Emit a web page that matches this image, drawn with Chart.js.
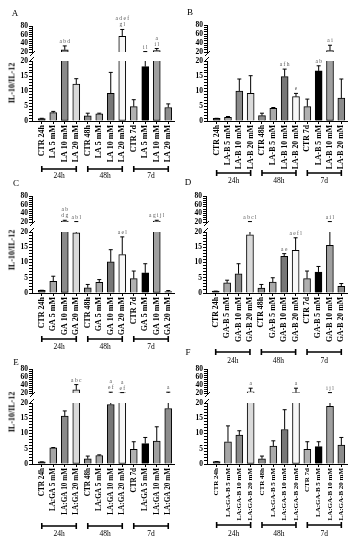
<!DOCTYPE html>
<html>
<head>
<meta charset="utf-8">
<script src="https://cdn.jsdelivr.net/npm/chart.js@4.4.1/dist/chart.umd.min.js"></script>
<style>
  body { margin: 0; background: #fff; width: 355px; height: 550px; position: relative; overflow: hidden; font-family: 'Liberation Serif', 'Times New Roman', serif; }
  canvas { position: absolute; }
  .letter { position: absolute; font-size: 9px; transform: translate(-50%, -50%); }
  .ytitle { position: absolute; font-size: 8px; font-weight: bold; white-space: nowrap; transform: translate(-50%, -50%) rotate(-90deg); }
</style>
</head>
<body>
<script>
// groups and tick labels
var groups = ['24h', '48h', '7d'];
function treatLabels(t) {
  var out = [];
  groups.forEach(function(g) {
    out.push('CTR ' + g);
    [5, 10, 20].forEach(function(d) { out.push(t + ' ' + d + ' mM'); });
  });
  return out;
}
var labelsA = treatLabels('LA');
var labelsB = treatLabels('LA-B');
var labelsC = treatLabels('GA');
var labelsD = treatLabels('GA-B');
var labelsE = treatLabels('LA:GA');
var labelsF = treatLabels('LA:GA-B');

// IL-10/IL-12 ratio (bar height) and top of the error bar
var valuesA = [0.8, 2.8, 25, 12.3, 1.7, 2.4, 9.2, 56, 4.8, 18.1, 23, 4.5];
var errorsA = [0.9, 3.2, 34, 14.1, 2.6, 2.6, 16.2, 72, 7.1, 21, 28, 5.7];
var notesA  = ['', '', 'a b d', '', '', '', '', 'a d e f\ng l', '', 'i l', 'a\ni l', ''];

var valuesB = [0.9, 1.2, 10, 9.2, 1.8, 4.2, 14.8, 8.1, 4.8, 16.7, 23, 7.6];
var errorsB = [0.9, 1.5, 14, 15.1, 2.6, 4.5, 17.3, 9.2, 7.3, 18.4, 35, 14];
var notesB  = ['', '', '', '', '', '', 'a f h', 'e', '', 'a b', 'a i', ''];

var valuesC = [0.9, 3.8, 22, 19.7, 1.7, 3.5, 10.2, 12.6, 4.7, 6.6, 22, 0.5];
var errorsC = [0.9, 5.5, 24, 21, 2.8, 4.4, 14.2, 18.4, 7.2, 9.6, 24, 0.8];
var notesC  = ['', '', 'a b\nd g', 'a b l', '', '', '', 'a e l', '', '', 'a g i j l', ''];

var valuesD = [0.6, 3.3, 6.3, 19.1, 1.6, 3.6, 12, 14, 4.7, 6.9, 15.6, 2.2];
var errorsD = [0.6, 4.2, 9.6, 21, 2.8, 5, 12.9, 18.1, 7.2, 8.7, 21, 3.1];
var notesD  = ['', '', '', 'a b c l', '', '', 'a e', 'a e f l', '', '', 'a i l', ''];

var valuesE = [0.7, 5.3, 15.7, 28, 1.7, 2.8, 19.5, 20.5, 4.8, 6.7, 7.5, 18.2];
var errorsE = [0.7, 5.4, 17.4, 41, 2.6, 3.0, 22, 21, 7.3, 8.7, 12.2, 22];
var notesE  = ['', '', '', 'a b c', '', '', 'a\ne f', 'a\ne f', '', '', '', 'a'];

var valuesF = [0.8, 7.3, 9.5, 23, 1.7, 5.9, 11.3, 21, 4.8, 5.7, 18.9, 6.2];
var errorsF = [0.8, 12.5, 10.9, 32, 2.6, 7.6, 17.8, 32, 7.3, 7.3, 21, 8.7];
var notesF  = ['', '', '', 'a', '', '', '', 'a', '', '', 'i j l', ''];

var barColors = ['#3c3c3c', '#a6a6a6', '#8a8a8a', '#dadada', '#8c8c8c', '#a9a9a9', '#777777', '#f7f7f7',
                 '#b0b0b0', '#000000', '#a0a0a0', '#8c8c8c'];
var SERIF = "'Liberation Serif', 'Times New Roman', serif";
var BREAK = 20;

// page layout of each panel
var panels = [
  { letter: 'A', lx: 15, ly: 13, col: 0, axisX: 32, right: 174, upTop: 26, upBot: 52, loTop: 61, loBot: 121, brY: 169, txY: 176, lab: 8, title: 83,
    labels: labelsA, values: valuesA, errors: errorsA, notes: notesA },
  { letter: 'B', lx: 190, ly: 12, col: 175, axisX: 207, right: 347, upTop: 25, upBot: 52, loTop: 61, loBot: 121, brY: 173, txY: 181, lab: 7.8,
    labels: labelsB, values: valuesB, errors: errorsB, notes: notesB },
  { letter: 'C', lx: 16, ly: 183, col: 0, axisX: 32, right: 174, upTop: 196, upBot: 222, loTop: 232, loBot: 293, brY: 339, txY: 347, lab: 8, title: 250,
    labels: labelsC, values: valuesC, errors: errorsC, notes: notesC },
  { letter: 'D', lx: 188, ly: 182, col: 175, axisX: 206, right: 347, upTop: 196, upBot: 222, loTop: 232, loBot: 293, brY: 352, txY: 361, lab: 7.8,
    labels: labelsD, values: valuesD, errors: errorsD, notes: notesD },
  { letter: 'E', lx: 16, ly: 362, col: 0, axisX: 32, right: 174, upTop: 369, upBot: 393, loTop: 403, loBot: 464, brY: 526, txY: 534, lab: 7.2, title: 412,
    labels: labelsE, values: valuesE, errors: errorsE, notes: notesE },
  { letter: 'F', lx: 188, ly: 352, col: 175, axisX: 207, right: 347, upTop: 369, upBot: 393, loTop: 403, loBot: 464, brY: 525, txY: 534, lab: 7,
    labels: labelsF, values: valuesF, errors: errorsF, notes: notesF }
];

function addCanvas(left, top, w, h) {
  var c = document.createElement('canvas');
  c.width = w; c.height = h;
  c.style.left = left + 'px'; c.style.top = top + 'px';
  c.style.width = w + 'px'; c.style.height = h + 'px';
  document.body.appendChild(c);
  return c;
}

function addText(cls, txt, x, y) {
  var d = document.createElement('div');
  d.className = cls; d.textContent = txt;
  d.style.left = x + 'px'; d.style.top = y + 'px';
  document.body.appendChild(d);
}

// error bars, significance letters, axis break, group brackets
function marks(p, part, top) {
  return {
    id: 'marks',
    afterDatasetsDraw: function(chart) {
      var ctx = chart.ctx, xs = chart.scales.x, ys = chart.scales.y, a = chart.chartArea;
      ctx.save();
      ctx.strokeStyle = '#000';
      ctx.lineWidth = 1;
      p.values.forEach(function(v, i) {
        var e = p.errors[i], px = xs.getPixelForValue(i), from, to, cap;
        if (part === 'lower') { from = Math.min(v, BREAK); to = Math.min(e, BREAK); cap = e <= BREAK; }
        else { if (e <= BREAK) return; from = Math.max(v, BREAK); to = e; cap = true; }
        var y1 = ys.getPixelForValue(from), y2 = ys.getPixelForValue(to);
        ctx.beginPath();
        ctx.moveTo(px, y1); ctx.lineTo(px, y2);
        if (cap) { ctx.moveTo(px - 2, y2); ctx.lineTo(px + 2, y2); }
        ctx.stroke();
        // letters above the error bar
        var note = p.notes[i];
        if (note && ((part === 'upper') === (e > BREAK))) {
          var lines = note.split('\n');
          ctx.fillStyle = '#555';
          ctx.font = '5.5px ' + SERIF;
          ctx.textAlign = 'center';
          ctx.textBaseline = 'alphabetic';
          for (var k = 0; k < lines.length; k++) {
            ctx.fillText(lines[lines.length - 1 - k], px, y2 - 3 - k * 6);
          }
        }
      });
      // axis break marks
      ctx.beginPath();
      if (part === 'lower') { ctx.moveTo(a.left - 3, a.top + 1); ctx.lineTo(a.left + 2, a.top - 4); }
      else { ctx.moveTo(a.left - 2, a.bottom + 4); ctx.lineTo(a.left + 3, a.bottom - 1); }
      ctx.stroke();
      if (part === 'lower') {
        var by = p.brY - top, ty = p.txY - top;
        ctx.lineWidth = 1.6;
        ctx.fillStyle = '#000';
        ctx.font = '7.5px ' + SERIF;
        ctx.textAlign = 'center';
        ctx.textBaseline = 'middle';
        groups.forEach(function(g, gi) {
          var x1 = xs.getPixelForValue(gi * 4), x2 = xs.getPixelForValue(gi * 4 + 3);
          ctx.beginPath();
          ctx.moveTo(x1, by); ctx.lineTo(x2, by);
          ctx.moveTo(x1, by - 3); ctx.lineTo(x1, by + 3);
          ctx.moveTo(x2, by - 3); ctx.lineTo(x2, by + 3);
          ctx.stroke();
          ctx.fillText(g, (x1 + x2) / 2, ty);
        });
      }
      ctx.restore();
    }
  };
}

function xScale(p, show) {
  return {
    type: 'linear', min: -0.85, max: 11.5, offset: false, display: show,
    grid: { display: true, offset: false, drawOnChartArea: false, tickLength: 3, color: '#000' },
    border: { color: '#000', width: 1 },
    ticks: {
      stepSize: 1, includeBounds: false, autoSkip: false, minRotation: 90, maxRotation: 90, padding: 1,
      color: '#000', font: { family: SERIF, size: p.lab, weight: 'bold' },
      callback: function(v) { return p.labels[v] || ''; }
    }
  };
}

function yScale(p, min, max, step, every) {
  return {
    min: min, max: max,
    grid: { drawOnChartArea: false, tickLength: 3, color: '#000' },
    border: { color: '#000', width: 1 },
    ticks: {
      stepSize: step, autoSkip: false, padding: 1, color: '#000',
      font: { family: SERIF, size: 7.5, weight: 'bold' },
      callback: function(v) { return v % every === 0 ? v : ''; }
    },
    afterFit: function(s) { s.width = p.axisX - p.col; }
  };
}

panels.forEach(function(p) {
  var W = 180, padR = p.col + W - p.right;

  // upper segment, 20 to 80
  var uTop = p.upTop - 24, uH = p.upBot + 6 - uTop;
  new Chart(addCanvas(p.col, uTop, W, uH), {
    type: 'bar',
    data: {
      datasets: [{
        data: p.values.map(function(v, i) { return v > BREAK ? { x: i, y: [BREAK, v] } : { x: i, y: null }; }),
        backgroundColor: barColors, borderColor: '#000', borderWidth: 1, borderSkipped: 'start', barThickness: 7
      }]
    },
    options: {
      responsive: false, animation: false, devicePixelRatio: 1,
      layout: { padding: { left: 0, right: padR, top: p.upTop - uTop, bottom: uTop + uH - p.upBot } },
      plugins: { legend: { display: false }, tooltip: { enabled: false } },
      scales: { x: xScale(p, false), y: yScale(p, 20, 80, 5, 20) }
    },
    plugins: [marks(p, 'upper', uTop)]
  });

  // lower segment, 0 to 20, with category labels and group brackets
  var lTop = p.loTop - 14, lH = p.txY + 8 - lTop;
  var xs = xScale(p, true);
  xs.afterFit = function(s) { s.height = lH - 14 - (p.loBot - p.loTop); };
  new Chart(addCanvas(p.col, lTop, W, lH), {
    type: 'bar',
    data: {
      datasets: [{
        data: p.values.map(function(v, i) { return { x: i, y: Math.min(v, BREAK) }; }),
        backgroundColor: barColors, borderColor: '#000', borderWidth: 1, barThickness: 7,
        borderSkipped: function(c) { return p.values[c.dataIndex] > BREAK ? 'top' : 'start'; }
      }]
    },
    options: {
      responsive: false, animation: false, devicePixelRatio: 1,
      layout: { padding: { left: 0, right: padR, top: 14, bottom: 0 } },
      plugins: { legend: { display: false }, tooltip: { enabled: false } },
      scales: { x: xs, y: yScale(p, 0, 20, 1, 5) }
    },
    plugins: [marks(p, 'lower', lTop)]
  });

  addText('letter', p.letter, p.lx, p.ly);
  if (p.title) addText('ytitle', 'IL-10/IL-12', 12, p.title);
});
</script>
</body>
</html>
